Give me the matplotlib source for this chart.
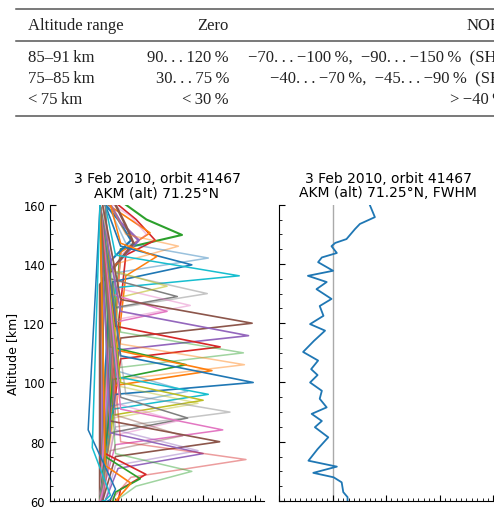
import numpy as np
import matplotlib
matplotlib.use("Agg")
import matplotlib.pyplot as plt
from matplotlib.lines import Line2D
from matplotlib.ticker import MultipleLocator

W, H = 494, 510

# ---- table (top of page) ----
DOTS = ".\u2009.\u2009.\u2009"
tab_header = ["Altitude range", "Zero", "NOEM"]
tab_alt = ["85\u201391\u2009km", "75\u201385\u2009km", "<\u200975\u2009km"]
tab_zero = ["90" + DOTS + "120\u2009%", "30" + DOTS + "75\u2009%", "<\u200930\u2009%"]
tab_noem = ["\u221270" + DOTS + "\u2212100\u2009%,  \u221290" + DOTS + "\u2212150\u2009%  (SH)",
            "\u221240" + DOTS + "\u221270\u2009%,  \u221245" + DOTS + "\u221290\u2009%  (SH)",
            ">\u2009\u221240\u2009%"]

# ---- averaging kernels (left panel), one entry per curve ----
k_color = ["C2", "C3", "C1", "C6", "C0", "C4", "C5", "C1", "C0", "C0",
           "C1", "C9", "C7", "C7", "C8", "C6", "C6", "C5", "C4", "C3",
           "C2", "C1", "C2", "C1", "C0", "C0", "C9", "C8", "C8", "C7",
           "C7", "C6", "C6", "C5", "C5", "C4", "C4", "C3", "C2", "C3",
           "C2", "C1", "C0", "C9"]
k_alpha = [1, 1, 1, .45, 1, 1, 1, .45, .45, 1,
           1, 1, .45, 1, .6, .45, 1, 1, 1, 1,
           .45, .45, 1, 1, 1, .45, 1, 1, .45, .45,
           1, .45, 1, .45, 1, .45, 1, .45, .45, 1,
           1, 1, 1, 1]
peak_alt = [149.8, 148, 150.5, 150, 148, 148, 147, 146, 142, 139.7,
            142.5, 136, 130, 129, 132.5, 126, 124, 120, 115.8, 112,
            110, 106, 106, 104, 100, 97, 96, 94, 93, 90,
            88, 87, 84, 82, 80, 77, 76, 74, 70, 69,
            67.5, 66, 64, 62]
peak_val = [0.159, 0.107, 0.097, 0.09, 0.06, 0.075, 0.065, 0.152, 0.21, 0.178,
            0.11, 0.27, 0.208, 0.15, 0.13, 0.175, 0.13, 0.295, 0.288, 0.233,
            0.278, 0.28, 0.167, 0.217, 0.297, 0.17, 0.21, 0.2, 0.19, 0.252,
            0.17, 0.15, 0.238, 0.16, 0.232, 0.19, 0.2, 0.283, 0.178, 0.089,
            0.078, 0.06, 0.03, 0.02]
lo_alt = [145, 143, 144, 143, 141, 135, 133, 140, 137, 134,
          136, 132, 125, 125, 128, 121, 120, 115, 111, 108,
          105, 101, 101, 99, 96, 92, 91, 89, 88, 85,
          83, 82, 79, 77, 75, 72, 71, 68, 65, 64,
          63, 62, 60.5, 60.2]
lo_val = [0.04, 0.05, 0.04, 0.04, 0.02, 0.005, 0.0, 0.03, 0.03, 0.025,
          0.05, 0.03, 0.03, 0.02, 0.02, 0.025, 0.02, 0.04, 0.035, 0.04,
          0.035, 0.04, 0.025, 0.03, 0.03, 0.02, 0.025, 0.025, 0.025, 0.03,
          0.02, 0.025, 0.03, 0.02, 0.03, 0.03, 0.035, 0.06, 0.07, 0.04,
          0.03, 0.04, 0.02, 0.01]
hi_alt = [155, 155, 156, 156, 155, 154, 153, 150, 147, 146,
          147, 143, 137, 135, 138, 132, 130, 128, 124, 119,
          117, 113, 112, 111, 109, 104, 102, 100, 99, 96,
          95, 93, 91, 89, 87, 84, 83, 80, 76, 76,
          75, 72, 84, 78]
hi_val = [0.09, 0.07, 0.05, 0.06, 0.035, 0.04, 0.05, 0.05, 0.05, 0.04,
          0.04, 0.03, 0.03, 0.02, 0.02, 0.03, 0.02, 0.04, 0.04, 0.03,
          0.04, 0.04, 0.02, 0.03, 0.04, 0.03, 0.03, 0.04, 0.03, 0.05,
          0.04, 0.03, 0.04, 0.03, 0.02, 0.03, 0.02, 0.04, 0.03, 0.01,
          0.01, 0.01, -0.023, -0.015]
bot_val = [0.0, 0.0, 0.005, 0.0, 0.0, 0.005, 0.0, 0.0, 0.0, 0.0,
           0.0, 0.0, 0.0, 0.0, 0.0, 0.0, 0.0, 0.0, 0.0, 0.0,
           0.0, 0.0, 0.0, 0.0, 0.0, 0.0, 0.0, 0.0, 0.0, 0.0,
           0.0, 0.005, 0.0, 0.005, 0.005, 0.01, 0.01, 0.02, 0.03, 0.035,
           0.025, 0.03, 0.015, 0.005]
top_val = [0.05, 0.035, 0.015, 0.025, 0.01, 0.02, 0.03, 0.02, 0.015, 0.01,
           0.02, 0.01, 0.005, 0.01, 0.005, 0.005, 0.0, 0.005, 0.0, 0.0,
           0.0, 0.0, 0.0, 0.0, 0.0, 0.0, 0.0, 0.0, 0.0, 0.0,
           0.0, 0.0, 0.0, 0.0, 0.0, 0.0, 0.0, 0.0, 0.0, 0.0,
           0.0, 0.0, 0.0, 0.0]
k_width = [1.5, 1.2, 1.2, 1.1, 1.5, 1.8, 1.8, 1.1, 1.1, 1.2,
           1.1, 1.1, 1.1, 1.1, 1.1, 1.1, 1.1, 1.2, 1.2, 1.2,
           1.1, 1.1, 1.2, 1.2, 1.2, 1.1, 1.1, 1.1, 1.1, 1.1,
           1.1, 1.1, 1.1, 1.1, 1.2, 1.1, 1.1, 1.1, 1.1, 1.2,
           1.2, 1.2, 1.1, 1.1]

# ---- FWHM profile (right panel) ----
fwhm_alt = [159.7, 155.8, 153.5, 151.8, 148.4, 147.1, 146.0, 143.7, 142.2, 140.6,
            137.7, 136.0, 133.9, 131.5, 128.2, 125.8, 122.5, 119.7, 117.5, 114.0,
            110.3, 107.4, 104.5, 102.5, 100.0, 97.2, 94.5, 91.6, 89.4, 87.0,
            84.9, 81.5, 77.5, 73.6, 71.6, 69.5, 68.0, 66.3, 63.0, 61.3, 60.0]
fwhm_val = [17.0, 17.9, 15.1, 14.2, 12.6, 10.5, 9.8, 10.8, 8.0, 7.3,
            10.1, 5.4, 8.9, 7.0, 9.8, 7.6, 8.3, 5.8, 8.6, 6.5,
            4.5, 7.3, 6.0, 7.2, 5.8, 8.0, 7.6, 8.9, 6.1, 8.0,
            6.7, 9.2, 7.2, 5.5, 10.8, 6.4, 10.2, 11.7, 12.0, 12.8, 12.8]

plt.rcParams["font.family"] = "DejaVu Sans"
plt.rcParams["font.size"] = 8.3

fig = plt.figure(figsize=(W / 100, H / 100), dpi=100)


def fx(px):
    return px / W


def fy(py):
    return 1 - py / H


# table rules and text
serif = ["Liberation Serif", "DejaVu Serif"]
for yy in (10, 42, 117):
    fig.add_artist(Line2D([fx(16), fx(500)], [fy(yy), fy(yy)], color="#555555", lw=1.1))
fs_tab = 12
tcol = "#222222"
fig.text(fx(28), fy(26), tab_header[0], family=serif, fontsize=fs_tab, va="center", ha="left", color=tcol)
fig.text(fx(229), fy(26), tab_header[1], family=serif, fontsize=fs_tab, va="center", ha="right", color=tcol)
fig.text(fx(467), fy(26), tab_header[2], family=serif, fontsize=fs_tab, va="center", ha="left", color=tcol)
row_y = [58, 79, 100]
noem_x = [248, 270, 450]
for i in range(3):
    fig.text(fx(28), fy(row_y[i]), tab_alt[i], family=serif, fontsize=fs_tab, va="center", ha="left", color=tcol)
    fig.text(fx(229), fy(row_y[i]), tab_zero[i], family=serif, fontsize=fs_tab, va="center", ha="right", color=tcol)
    fig.text(fx(noem_x[i]), fy(row_y[i]), tab_noem[i], family=serif, fontsize=fs_tab, va="center", ha="left", color=tcol)

# axes positions (pixels)
ax_top, ax_bot = 205.7, 502
ax1 = fig.add_axes([fx(50), fy(ax_bot), (264 - 50) / W, (ax_bot - ax_top) / H])
ax2 = fig.add_axes([fx(279), fy(ax_bot), (497 - 279) / W, (ax_bot - ax_top) / H])

for i in range(len(peak_alt)):
    alts = [60, lo_alt[i], peak_alt[i], hi_alt[i], 160]
    vals = [bot_val[i], lo_val[i], peak_val[i], hi_val[i], top_val[i]]
    ax1.plot(vals, alts, color=k_color[i], alpha=k_alpha[i], lw=k_width[i])

ax1.set_xlim(-0.097, 0.318)
ax1.set_ylim(60, 160)
ax1.xaxis.set_major_locator(MultipleLocator(0.1))
ax1.xaxis.set_minor_locator(MultipleLocator(0.01))
ax1.set_ylabel("Altitude [km]", fontsize=9, labelpad=3)
ax1.set_title("3 Feb 2010, orbit 41467\nAKM (alt) 71.25\u00b0N", fontsize=10, pad=6, linespacing=1.05)

ax2.plot(fwhm_val, fwhm_alt, color="C0", lw=1.3)
ax2.axvline(10, color="#aaaaaa", lw=1.0, zorder=0)
ax2.set_xlim(0, 40.7)
ax2.set_ylim(60, 160)
ax2.xaxis.set_major_locator(MultipleLocator(10))
ax2.xaxis.set_minor_locator(MultipleLocator(1))
ax2.set_title("3 Feb 2010, orbit 41467\nAKM (alt) 71.25\u00b0N, FWHM", fontsize=10, pad=6, linespacing=1.05)

for ax in (ax1, ax2):
    ax.yaxis.set_major_locator(MultipleLocator(20))
    ax.yaxis.set_minor_locator(MultipleLocator(5))
    ax.spines["top"].set_visible(False)
    ax.spines["right"].set_visible(False)
    ax.tick_params(which="both", direction="in")
    ax.tick_params(which="major", length=4)
    ax.tick_params(which="minor", length=2)
    ax.tick_params(axis="x", pad=5)

ax2.tick_params(axis="y", which="both", labelleft=False)

fig.savefig("out.png", dpi=100)
